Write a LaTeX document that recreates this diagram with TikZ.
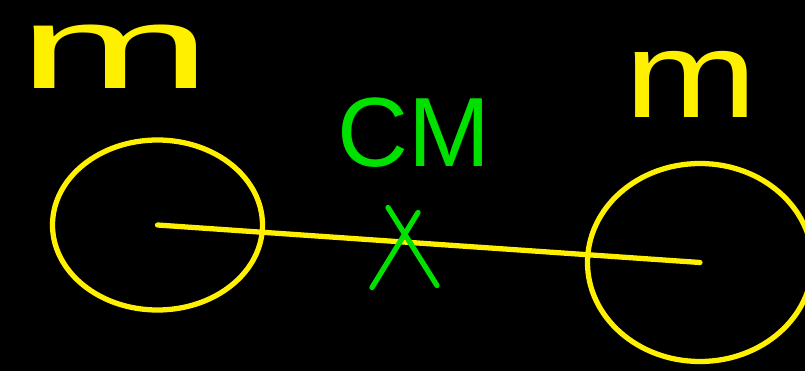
\documentclass[tikz,border=0pt]{standalone}
\usepackage{fontspec}
\setmainfont{Liberation Sans}
\usepackage{xcolor}
\usetikzlibrary{positioning, shapes.geometric, calc}

\definecolor{penyellow}{RGB}{255,240,0}
\definecolor{pengreen}{RGB}{0,225,0}

\begin{document}
\begin{tikzpicture}[line width=3pt, line cap=round, line join=round]
        % Board
        \fill[black] (0,0) rectangle (16.1,-7.42);
        \useasboundingbox (0,0) rectangle (16.1,-7.42);

        % Masses
        \node (massleft) [ellipse, draw=penyellow, minimum width=4.2cm, minimum height=3.4cm, inner sep=0pt] at (3.15,-4.5) {};
        \node (massright) [ellipse, draw=penyellow, minimum width=4.5cm, minimum height=3.96cm, inner sep=0pt] at (14.0,-5.25) {};

        % Rod
        \draw [penyellow] (massleft.center) -- (massright.center);

        % Labels
        \node (labelleft) [text=penyellow, inner sep=0pt, anchor=base, font=\fontsize{60}{60}\selectfont] at (2.3,-1.78) {\scalebox{2.2}[1.12]{m}};
        \node (labelright) [text=penyellow, inner sep=0pt, anchor=base, font=\fontsize{70}{70}\selectfont] at (13.82,-2.36) {\scalebox{1.3}[1]{m}};
        \node (cmlabel) [text=pengreen, inner sep=0pt, font=\fontsize{56}{56}\selectfont] at (8.28,-2.66) {CM};

        % Centre of mass mark
        \coordinate (cmx) at (8.1,-4.95);
        \draw [pengreen] ($(cmx)+(-0.34,0.8)$) -- ($(cmx)+(0.64,-0.76)$);
        \draw [pengreen] ($(cmx)+(0.26,0.7)$) -- ($(cmx)+(-0.66,-0.8)$);
    \end{tikzpicture}
\end{document}
